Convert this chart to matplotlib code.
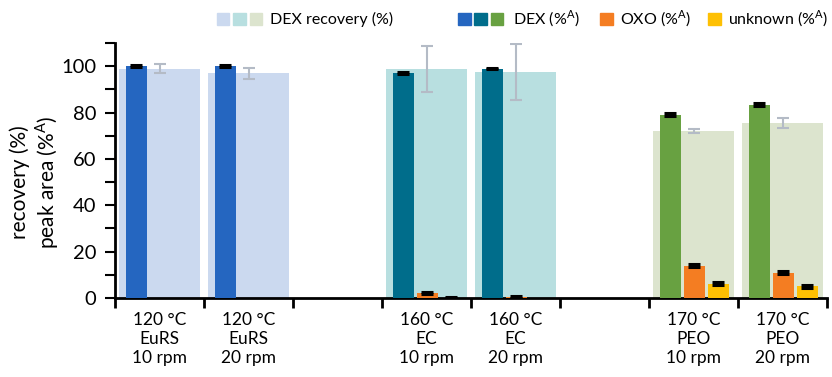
import numpy as np
import matplotlib
matplotlib.use("Agg")
import matplotlib.pyplot as plt
from matplotlib.patches import Rectangle
from matplotlib.ticker import MultipleLocator

plt.rcParams['font.family'] = ['Lato', 'DejaVu Sans']

# data
labels = ["120 °C\nEuRS\n10 rpm", "120 °C\nEuRS\n20 rpm", "",
          "160 °C\nEC\n10 rpm", "160 °C\nEC\n20 rpm", "",
          "170 °C\nPEO\n10 rpm", "170 °C\nPEO\n20 rpm"]
recovery = [99.0, 97.0, np.nan, 98.6, 97.4, np.nan, 72.1, 75.5]
recovery_err = [2.0, 2.4, np.nan, 9.9, 12.2, np.nan, 1.0, 2.3]
dex = [100.0, 100.0, np.nan, 97.0, 99.0, np.nan, 79.0, 83.4]
dex_err = [0.3, 0.3, np.nan, 0.3, 0.3, np.nan, 0.6, 0.7]
oxo = [np.nan, np.nan, np.nan, 2.0, 0.5, np.nan, 14.0, 11.0]
oxo_err = [np.nan, np.nan, np.nan, 0.4, 0.4, np.nan, 0.6, 0.6]
unknown = [np.nan, np.nan, np.nan, 0.2, np.nan, np.nan, 6.2, 5.0]
unknown_err = [np.nan, np.nan, np.nan, 0.2, np.nan, np.nan, 0.5, 0.5]

# colours
rec_colors = ["#CBD9EF", "#CBD9EF", "w", "#B8DFE0", "#B8DFE0", "w", "#DCE4CE", "#DCE4CE"]
dex_colors = ["#2566C0", "#2566C0", "w", "#006D8B", "#006D8B", "w", "#68A141", "#68A141"]
oxo_color = "#F47D22"
unk_color = "#FEC003"
err_grey = "#B4BBC6"

W, H = 832, 377
fig = plt.figure(figsize=(W / 100, H / 100), dpi=100)
ax = fig.add_axes([115 / W, 1 - 298 / H, (827 - 115) / W, (298 - 43) / H])

x = np.arange(len(labels))
bw = 0.236

ax.bar(x, recovery, width=0.91, color=rec_colors, zorder=1)
ax.errorbar(x, recovery, yerr=recovery_err, fmt='none', ecolor=err_grey,
            elinewidth=1.5, capsize=4, capthick=1.5, zorder=2)

ax.bar(x - 0.26, dex, width=bw, color=dex_colors, zorder=3)
ax.bar(x + 0.01, oxo, width=bw, color=oxo_color, zorder=3)
ax.bar(x + 0.28, unknown, width=bw, color=unk_color, zorder=3)
for off, vals, errs in [(-0.26, dex, dex_err), (0.01, oxo, oxo_err), (0.28, unknown, unknown_err)]:
    ax.errorbar(x + off, vals, yerr=errs, fmt='none', ecolor='black',
                elinewidth=2, capsize=4.5, capthick=2.2, zorder=4)

ax.set_xlim(-0.5, len(labels) - 0.5)
ax.set_ylim(0, 110)
ax.yaxis.set_major_locator(MultipleLocator(20))
ax.yaxis.set_minor_locator(MultipleLocator(10))
ax.set_yticks(np.arange(0, 101, 20))
ax.tick_params(axis='y', which='both', direction='out', length=7.5, width=1.5, labelsize=14.5, pad=6)

ax.set_xticks(x)
ax.set_xticklabels(labels, fontsize=12.5, linespacing=1.25)
ax.set_xticks(np.arange(-0.5, len(labels), 1), minor=True)
ax.tick_params(axis='x', which='major', length=0, pad=10)
ax.tick_params(axis='x', which='minor', direction='out', length=7, width=2)

for s in ['top', 'right']:
    ax.spines[s].set_visible(False)
for s in ['left', 'bottom']:
    ax.spines[s].set_linewidth(2)

fig.text(20 / W, 1 - 182 / H, "recovery (%)", rotation=90, ha='center', va='center', fontsize=15)
fig.text(47 / W, 1 - 182 / H, "peak area (%$^{\\mathregular{A}}$)", rotation=90,
         ha='center', va='center', fontsize=15)

# legend, drawn by hand so the grouped squares match
sq = 12.5
ly = 19


def square(px, color):
    fig.add_artist(Rectangle((px / W, 1 - (ly + sq / 2) / H), sq / W, sq / H,
                             color=color, transform=fig.transFigure))


for i, c in enumerate(["#CBD9EF", "#B8DFE0", "#DCE4CE"]):
    square(217 + i * 16.3, c)
fig.text(270 / W, 1 - ly / H, "DEX recovery (%)", va='center', fontsize=11.5)
for i, c in enumerate(["#2566C0", "#006D8B", "#68A141"]):
    square(458 + i * 16.3, c)
fig.text(513 / W, 1 - ly / H, "DEX (%$^{\\mathregular{A}}$)", va='center', fontsize=11.5)
square(600, oxo_color)
fig.text(620 / W, 1 - ly / H, "OXO (%$^{\\mathregular{A}}$)", va='center', fontsize=11.5)
square(708, unk_color)
fig.text(728 / W, 1 - ly / H, "unknown (%$^{\\mathregular{A}}$)", va='center', fontsize=11.5)

fig.savefig("out.png", dpi=100)
